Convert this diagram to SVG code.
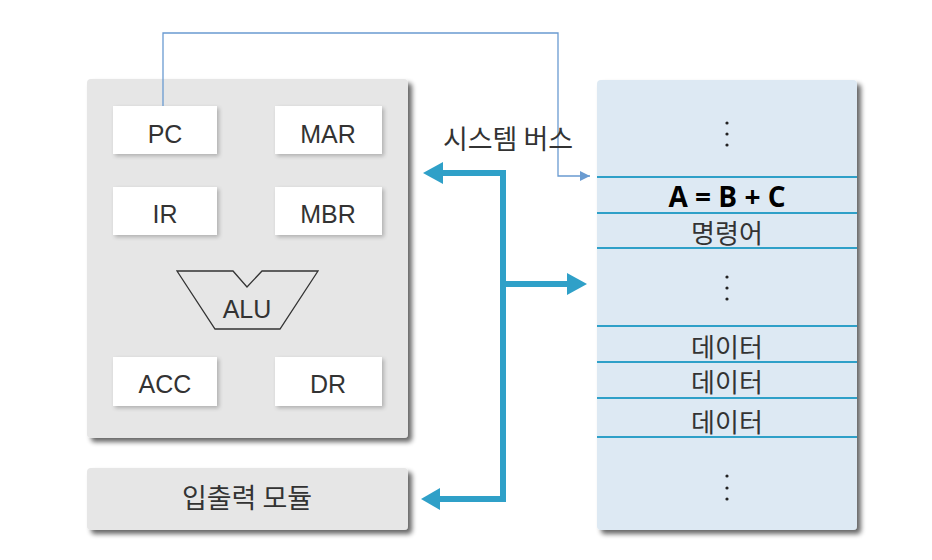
<svg xmlns="http://www.w3.org/2000/svg" width="932" height="560" viewBox="0 0 932 560">
<defs>
<filter id="sh" x="-10%" y="-10%" width="125%" height="125%">
<feGaussianBlur in="SourceAlpha" stdDeviation="2.5"/>
<feOffset dx="4" dy="4" result="b"/>
<feComponentTransfer><feFuncA type="linear" slope="0.6"/></feComponentTransfer>
<feMerge><feMergeNode/><feMergeNode in="SourceGraphic"/></feMerge>
</filter>
<filter id="sh2" x="-10%" y="-10%" width="130%" height="130%">
<feGaussianBlur in="SourceAlpha" stdDeviation="2"/>
<feOffset dx="2" dy="2" result="b"/>
<feComponentTransfer><feFuncA type="linear" slope="0.25"/></feComponentTransfer>
<feMerge><feMergeNode/><feMergeNode in="SourceGraphic"/></feMerge>
</filter>
<marker id="thin" viewBox="0 0 10 10" refX="10" refY="5" markerWidth="10" markerHeight="10" markerUnits="userSpaceOnUse" orient="auto">
<path d="M0,0 L10,5 L0,10 z" fill="#6a9bd1"/>
</marker>
</defs>
<style>
.panel{fill:#e6e6e6;filter:url(#sh)}
.mem{fill:#dde9f3;filter:url(#sh)}
.reg{fill:#ffffff;filter:url(#sh2)}
.t{font-family:"Liberation Sans","Noto Sans CJK KR",sans-serif;fill:#333;text-anchor:middle;font-size:25px}
.k{font-family:"Noto Sans CJK KR","Liberation Sans",sans-serif;fill:#333;text-anchor:middle;dominant-baseline:central;font-size:27px}
.row{stroke:#2fa0c8;stroke-width:2}
.bus{fill:none;stroke:#2fa0c8;stroke-width:6}
.head{fill:#2fa0c8}
.dot{fill:#222}
</style>
<rect width="932" height="560" fill="#ffffff"/>
<g id="cpu">
<rect class="panel" x="87" y="79" width="321" height="359" rx="4"/>
</g>
<g id="pc"><rect class="reg" x="113" y="106" width="104" height="48"/><text class="t" x="165" y="143">PC</text></g>
<g id="mar"><rect class="reg" x="275" y="106" width="107" height="48"/><text class="t" x="328" y="143">MAR</text></g>
<g id="ir"><rect class="reg" x="113" y="187" width="104" height="48"/><text class="t" x="165" y="223">IR</text></g>
<g id="mbr"><rect class="reg" x="275" y="187" width="107" height="48"/><text class="t" x="328" y="223">MBR</text></g>
<g id="alu"><path d="M177,271 L233,271 L247,287 L262,271 L318,271 L280,329 L215,329 Z" fill="none" stroke="#333" stroke-width="1.3"/><text class="t" x="247" y="318">ALU</text></g>
<g id="acc"><rect class="reg" x="113" y="357" width="104" height="49"/><text class="t" x="165" y="393">ACC</text></g>
<g id="dr"><rect class="reg" x="275" y="357" width="107" height="49"/><text class="t" x="328" y="393">DR</text></g>
<g id="io"><rect class="panel" x="87" y="468" width="321" height="62" rx="4"/><text class="k" x="247" y="496">입출력 모듈</text></g>
<g id="memory">
<rect class="mem" x="597" y="80" width="260" height="450" rx="4"/>
<g class="dot"><circle cx="727" cy="123" r="1.6"/><circle cx="727" cy="134" r="1.6"/><circle cx="727" cy="145" r="1.6"/>
<circle cx="727" cy="277" r="1.6"/><circle cx="727" cy="288" r="1.6"/><circle cx="727" cy="299" r="1.6"/>
<circle cx="727" cy="476" r="1.6"/><circle cx="727" cy="488" r="1.6"/><circle cx="727" cy="499" r="1.6"/></g>
<line class="row" x1="597" y1="177" x2="857" y2="177"/>
<line class="row" x1="597" y1="213" x2="857" y2="213"/>
<line class="row" x1="597" y1="248" x2="857" y2="248"/>
<line class="row" x1="597" y1="326" x2="857" y2="326"/>
<line class="row" x1="597" y1="362" x2="857" y2="362"/>
<line class="row" x1="597" y1="398" x2="857" y2="398"/>
<line class="row" x1="597" y1="437" x2="857" y2="437"/>
<text x="727" y="207" font-family="'Open Sans','Noto Sans',sans-serif" font-weight="bold" font-size="28" fill="#000" text-anchor="middle">A = B + C</text>
<text class="k" x="727" y="231" style="font-size:26px">명령어</text>
<text class="k" x="727" y="345" style="font-size:26px">데이터</text>
<text class="k" x="727" y="380" style="font-size:26px">데이터</text>
<text class="k" x="727" y="420" style="font-size:26px">데이터</text>
</g>
<g id="connectors">
<polyline points="163,106 163,33 558,33 558,176 590,176" fill="none" stroke="#6a9bd1" stroke-width="1.3" marker-end="url(#thin)"/>
<polyline class="bus" points="443,173 503,173 503,499 439,499"/>
<line class="bus" x1="503" y1="284" x2="568" y2="284"/>
<path class="head" d="M423,173 L443,162 L443,184 Z"/>
<path class="head" d="M421,499 L440,488 L440,510 Z"/>
<path class="head" d="M587,284 L567,273 L567,295 Z"/>
<text class="k" x="508" y="137">시스템 버스</text>
</g>
</svg>
